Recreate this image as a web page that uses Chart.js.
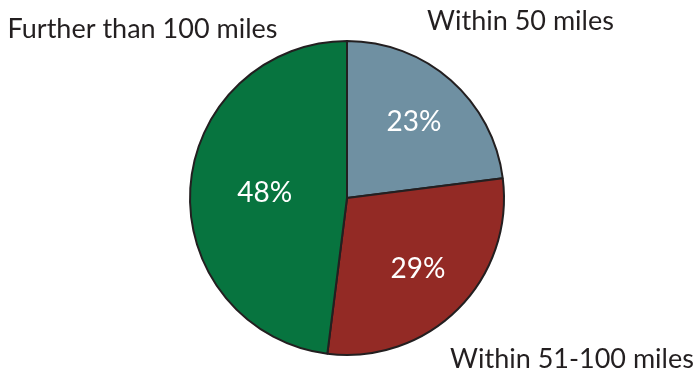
<!DOCTYPE html>
<html>
<head>
<meta charset="utf-8">
<script src="https://cdn.jsdelivr.net/npm/chart.js@4/dist/chart.umd.min.js"></script>
<style>
  html, body { margin: 0; padding: 0; background: #ffffff; }
  #wrap { width: 696px; height: 372px; }
</style>
</head>
<body>
<div id="wrap"><canvas id="c" width="696" height="372"></canvas></div>
<script>
const categories = ['Within 50 miles', 'Within 51-100 miles', 'Further than 100 miles'];
const shares = [23, 29, 48];
const sliceColors = ['#6f90a2', '#932a25', '#07743f'];

// Category name placement (text baseline), as offsets from the pie centre
const nameSpots = [
  { dx: 173.5, dy: -168.5 },
  { dx: 225, dy: 169.5 },
  { dx: -204.5, dy: -160 }
];
// How far out along each slice's middle the percentage sits
const pctDepth = [0.645, 0.64, 0.525];

const labelPlugin = {
  id: 'sliceLabels',
  afterDatasetsDraw(chart) {
    const ctx = chart.ctx;
    const meta = chart.getDatasetMeta(0);
    ctx.save();
    ctx.textAlign = 'center';
    meta.data.forEach((arc, i) => {
      const p = arc.getProps(['x', 'y', 'startAngle', 'endAngle', 'outerRadius'], true);
      const mid = (p.startAngle + p.endAngle) / 2;
      const r = p.outerRadius * pctDepth[i];
      ctx.textBaseline = 'middle';
      ctx.fillStyle = '#ffffff';
      ctx.font = '28px Lato, sans-serif';
      ctx.fillText(shares[i] + '%', p.x + Math.cos(mid) * r, p.y + Math.sin(mid) * r);
      ctx.textBaseline = 'alphabetic';
      ctx.fillStyle = '#231f20';
      ctx.font = '27px Lato, sans-serif';
      ctx.fillText(categories[i], p.x + nameSpots[i].dx, p.y + nameSpots[i].dy);
    });
    ctx.restore();
  }
};

new Chart(document.getElementById('c'), {
  type: 'pie',
  data: {
    labels: categories,
    datasets: [{
      data: shares,
      backgroundColor: sliceColors,
      borderColor: '#231f20',
      borderWidth: 2
    }]
  },
  options: {
    responsive: false,
    animation: false,
    layout: { padding: { top: 40, bottom: 16, left: 0, right: 2 } },
    plugins: { legend: { display: false }, tooltip: { enabled: false } }
  },
  plugins: [labelPlugin]
});
</script>
</body>
</html>
